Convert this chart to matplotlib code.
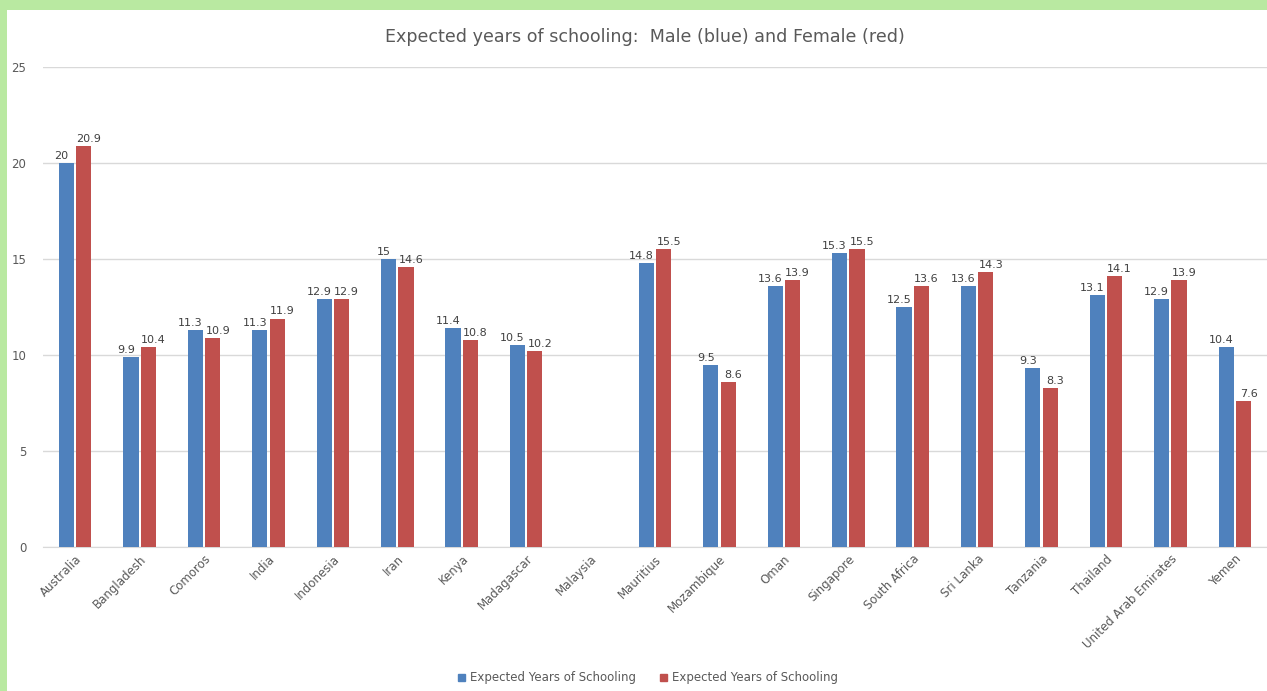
import matplotlib
matplotlib.use("Agg")
import matplotlib.pyplot as plt
import matplotlib.patches as mpatches
import numpy as np

countries = ["Australia", "Bangladesh", "Comoros", "India", "Indonesia", "Iran", "Kenya",
             "Madagascar", "Malaysia", "Mauritius", "Mozambique", "Oman", "Singapore",
             "South Africa", "Sri Lanka", "Tanzania", "Thailand", "United Arab Emirates", "Yemen"]
male = [20, 9.9, 11.3, 11.3, 12.9, 15, 11.4, 10.5, np.nan, 14.8, 9.5, 13.6, 15.3,
        12.5, 13.6, 9.3, 13.1, 12.9, 10.4]
female = [20.9, 10.4, 10.9, 11.9, 12.9, 14.6, 10.8, 10.2, np.nan, 15.5, 8.6, 13.9, 15.5,
          13.6, 14.3, 8.3, 14.1, 13.9, 7.6]
yticks = [0, 5, 10, 15, 20, 25]
title = "Expected years of schooling:  Male (blue) and Female (red)"
series_names = ["Expected Years of Schooling", "Expected Years of Schooling"]

W, H = 1267, 691
fig = plt.figure(figsize=(W / 100, H / 100), dpi=100)
fig.patch.set_facecolor("#b9e9a1")
# white chart area inside green frame
bg = fig.add_axes([7 / W, 0, 1 - 7 / W, 1 - 10 / H], zorder=-5)
bg.set_facecolor("white")
bg.set_xticks([])
bg.set_yticks([])
for s in bg.spines.values():
    s.set_visible(False)

ax = fig.add_axes([43 / W, (H - 547) / H, (1267 - 43) / W, (547 - 67) / H], zorder=1)
ax.set_facecolor("none")

blue = "#4f81bd"
red = "#c0504d"
x = np.arange(len(countries))
bw = 0.235
off = 0.135
b1 = ax.bar(x - off, male, bw, color=blue, label=series_names[0], zorder=3)
b2 = ax.bar(x + off, female, bw, color=red, label=series_names[1], zorder=3)

def fmt(v):
    return f"{v:g}"

for bars, vals, dx in ((b1, male, -3.6), (b2, female, 3.6)):
    for rect, v in zip(bars, vals):
        if np.isnan(v):
            continue
        ax.annotate(fmt(v), (rect.get_x() + rect.get_width() / 2, v), xytext=(dx, 1.5),
                    textcoords="offset points", ha="center", va="bottom",
                    fontsize=8, color="#404040", zorder=4)

ax.set_xlim(-0.5, len(countries) - 0.5)
ax.set_ylim(0, 25)
ax.set_yticks(yticks)
ax.yaxis.grid(True, color="#d9d9d9", linewidth=1)
ax.set_axisbelow(True)
for s in ["top", "right", "left"]:
    ax.spines[s].set_visible(False)
ax.spines["bottom"].set_color("#d9d9d9")
ax.tick_params(axis="y", length=0, labelsize=8.5, labelcolor="#595959", pad=12)
ax.tick_params(axis="x", length=0, labelsize=8.5, labelcolor="#595959", pad=4)
ax.set_xticks(x)
ax.set_xticklabels(countries, rotation=45, ha="right", rotation_mode="anchor")

fig.text(645 / W, 1 - 37 / H, title, ha="center", va="center", fontsize=12.6, color="#595959")

leg = fig.legend(handles=[mpatches.Patch(color=blue), mpatches.Patch(color=red)],
                 labels=series_names, loc="center", bbox_to_anchor=(648 / W, 1 - 678 / H),
                 ncol=2, frameon=False, fontsize=8.5, handlelength=0.6, handleheight=0.6,
                 handletextpad=0.4, columnspacing=2.0)
for t in leg.get_texts():
    t.set_color("#595959")

fig.savefig("out.png", dpi=100, facecolor=fig.get_facecolor())
